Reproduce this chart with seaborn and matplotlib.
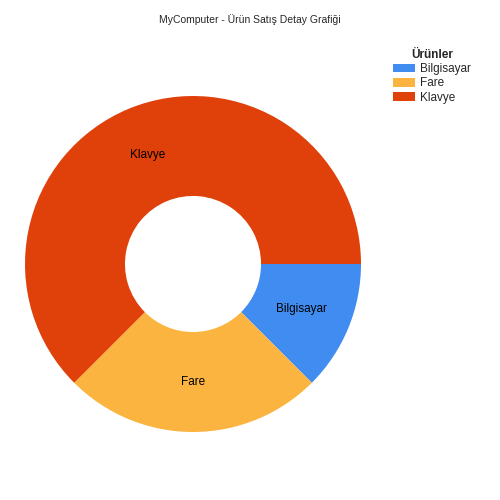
import matplotlib
matplotlib.use("Agg")
import matplotlib.pyplot as plt
import seaborn as sns

# Ürün satış verileri
urunler = ["Bilgisayar", "Fare", "Klavye"]
satislar = [1, 2, 5]
renkler = ["#418CF0", "#FCB441", "#E0400A"]

sns.set_theme(style="white")
plt.rcParams["font.family"] = ["Liberation Sans", "DejaVu Sans"]

fig = plt.figure(figsize=(5, 5), dpi=100)
ax = fig.add_axes([0.05, 0.136, 0.672, 0.672])

wedges, texts = ax.pie(satislar, labels=urunler, colors=sns.color_palette(renkler),
                       startangle=0, counterclock=False, labeldistance=0.70,
                       wedgeprops=dict(width=0.595, linewidth=0),
                       textprops=dict(fontsize=8.5, color="black", ha="center", va="center"))
ax.set_xlim(-1, 1)
ax.set_ylim(-1, 1)
ax.set_aspect("equal")

fig.text(0.5, 0.96, "MyComputer - Ürün Satış Detay Grafiği", ha="center", va="center", fontsize=7.5)

leg = fig.legend(wedges, urunler, title="Ürünler", loc="upper left",
                 bbox_to_anchor=(0.776, 0.912), frameon=False, fontsize=8.5,
                 handlelength=1.85, handleheight=0.75, handletextpad=0.5,
                 labelspacing=0.2, borderaxespad=0)
leg.get_title().set_fontweight("bold")
leg.get_title().set_fontsize(8.5)

fig.savefig("out.png", dpi=100)
